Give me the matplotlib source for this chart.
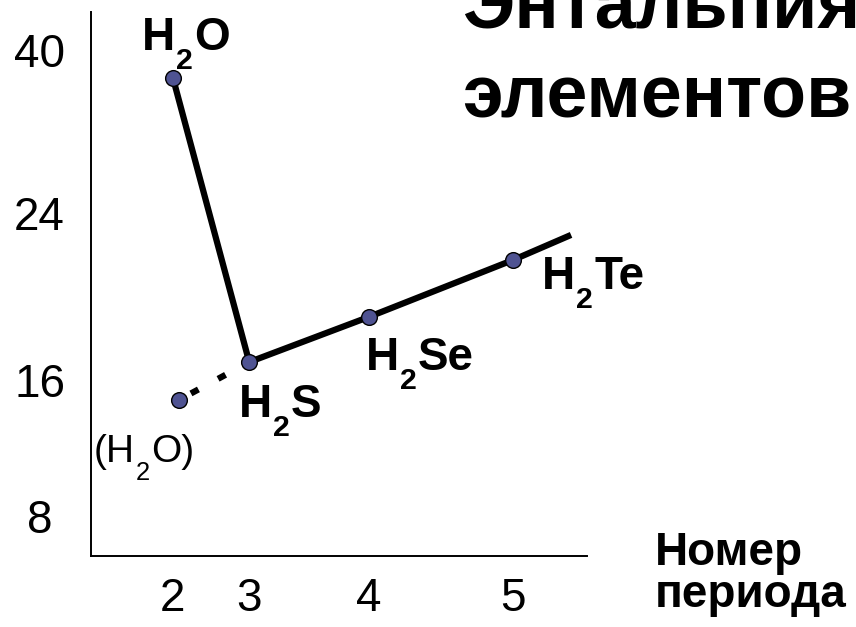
import numpy as np
import matplotlib
matplotlib.use("Agg")
from matplotlib import pyplot

pyplot.rcParams["font.family"] = ["Liberation Sans", "DejaVu Sans"]

# period numbers and (schematic) enthalpy values
periods = [2, 3, 4, 5]
enthalpy = [37.3, 16.86, 19.02, 21.75]
# formulas as (text, is_subscript) pieces
compounds = [
    [("H", False), ("2", True), ("O", False)],
    [("H", False), ("2", True), ("S", False)],
    [("H", False), ("2", True), ("Se", False)],
    [("H", False), ("2", True), ("Te", False)],
]
# trend line continues a little past H2Te
trend_end = (5.40, 22.95)
# expected (extrapolated) value for water
h2o_expected = (2.08, 14.83)
h2o_expected_label = [("(H", False), ("2", True), ("O)", False)]

x_ticks = [2, 3, 4, 5]
y_ticks = [8, 16, 24, 40]

# the drawing is schematic: tick values are spaced unevenly along the axes,
# so map values to axis fractions piecewise
x_anchor_vals = [0.93, 2, 3, 4, 5, 5.51]
x_anchor_pos = [0.0, 0.165, 0.319, 0.560, 0.851, 1.0]
y_anchor_vals = [5.65, 8, 16, 24, 40, 43.74]
y_anchor_pos = [0.0, 0.0735, 0.3235, 0.6305, 0.930, 1.0]


def x_fwd(v):
    return np.interp(v, x_anchor_vals, x_anchor_pos)


def x_inv(p):
    return np.interp(p, x_anchor_pos, x_anchor_vals)


def y_fwd(v):
    return np.interp(v, y_anchor_vals, y_anchor_pos)


def y_inv(p):
    return np.interp(p, y_anchor_pos, y_anchor_vals)


def formula_label(ax, xy, dx, dy, parts, size, weight):
    """Write a formula with a dropped subscript, piece by piece."""
    sub_size = size * 0.66
    first = ax.annotate(parts[0][0], xy, xytext=(dx, dy), textcoords="offset pixels",
                        ha="left", va="bottom", fontsize=size, fontweight=weight,
                        annotation_clip=False)
    prev = first
    for text, is_sub in parts[1:]:
        if is_sub:
            t = ax.annotate(text, (1, 0), xycoords=(prev, first),
                            xytext=(1, -15), textcoords="offset pixels",
                            ha="left", va="bottom", fontsize=sub_size,
                            fontweight=weight, annotation_clip=False)
        else:
            t = ax.annotate(text, (1, 0), xycoords=(prev, first),
                            xytext=(1, 0), textcoords="offset pixels",
                            ha="left", va="bottom", fontsize=size,
                            fontweight=weight, annotation_clip=False)
        prev = t


fig = pyplot.figure(figsize=(8.56, 6.27), dpi=100)
ax = fig.add_axes([91 / 856, 71 / 627, 496 / 856, 544 / 627])
ax.set_xscale("function", functions=(x_fwd, x_inv))
ax.set_yscale("function", functions=(y_fwd, y_inv))
ax.set_xlim(x_anchor_vals[0], x_anchor_vals[-1])
ax.set_ylim(y_anchor_vals[0], y_anchor_vals[-1])

marker_color = "#4f5392"

# dotted link from the expected water value towards H2S
ax.plot([h2o_expected[0], periods[1]], [h2o_expected[1], enthalpy[1]],
        color="black", lw=4.5, linestyle=(2.75, (1.36, 3.57)),
        dash_capstyle="butt", zorder=2)
ax.plot([h2o_expected[0]], [h2o_expected[1]], "o", ms=11.3,
        mfc=marker_color, mec="black", mew=1.0, zorder=4)

# main trend line
line_x = periods + [trend_end[0]]
line_y = enthalpy + [trend_end[1]]
ax.plot(line_x, line_y, color="black", lw=4.5, solid_capstyle="butt",
        solid_joinstyle="miter", zorder=3,
        marker="o", markevery=list(range(len(periods))), ms=11.3,
        mfc=marker_color, mec="black", mew=1.0)

# compound labels, offsets in pixels from each point (to the text's bottom-left)
offsets = [(-31, 18), (-10, -65), (-3, -63), (29, -39)]
for px, py, parts, (dx, dy) in zip(periods, enthalpy, compounds, offsets):
    formula_label(ax, (px, py), dx, dy, parts, 33, "bold")

formula_label(ax, h2o_expected, -85, -70, h2o_expected_label, 28, "normal")

# axes styling
for side in ["top", "right"]:
    ax.spines[side].set_visible(False)
for side in ["left", "bottom"]:
    ax.spines[side].set_linewidth(1.4)
    ax.spines[side].set_color("black")

ax.set_xticks(x_ticks)
ax.set_xticklabels([str(t) for t in x_ticks])
ax.set_yticks(y_ticks)
ax.set_yticklabels([str(t) for t in y_ticks])
ax.minorticks_off()
ax.tick_params(axis="x", length=0, pad=15, labelsize=33)
ax.tick_params(axis="y", length=0, pad=37, labelsize=33)
for lbl in ax.get_yticklabels():
    lbl.set_horizontalalignment("center")

# axis caption and (clipped) slide title
fig.text(655 / 856, 1 - 565 / 627, "Номер", fontsize=33, fontweight="bold",
         ha="left", va="baseline")
fig.text(655 / 856, 1 - 607 / 627, "периода", fontsize=33, fontweight="bold",
         ha="left", va="baseline")
fig.text(462 / 856, 1 - 28 / 627, "Энтальпия", fontsize=53, fontweight="bold",
         ha="left", va="baseline")
fig.text(462 / 856, 1 - 118 / 627, "элементов", fontsize=53, fontweight="bold",
         ha="left", va="baseline")

fig.savefig("out.png", dpi=100)
